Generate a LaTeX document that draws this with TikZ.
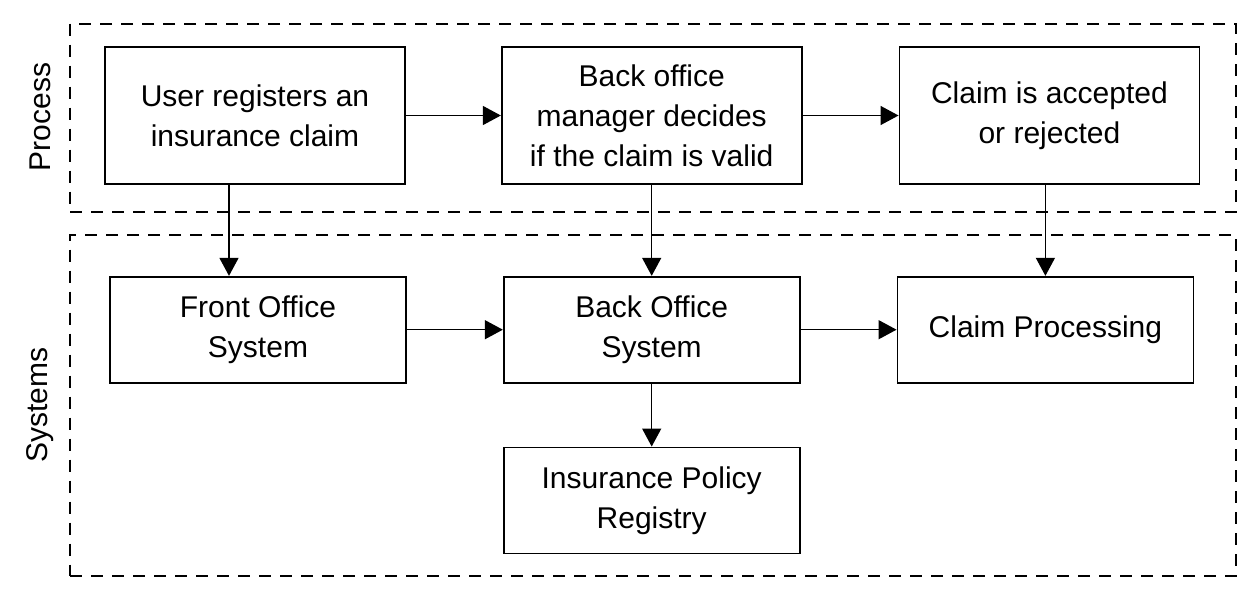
\documentclass[tikz,border=0pt]{standalone}
\usepackage{fontspec}
\setmainfont{Liberation Sans}
\usetikzlibrary{arrows.meta,positioning,calc}

\begin{document}
\begin{tikzpicture}[
  x=0.5pt,y=-0.5pt,
  font=\fontsize{15}{20}\selectfont,
  box/.style={draw,line width=0.85pt,align=center,minimum width=150pt,
              minimum height=68.5pt,inner sep=0pt},
  sysbox/.style={box,minimum width=148pt,minimum height=53pt},
  frame/.style={draw,line width=1pt,dash pattern=on 6pt off 4.5pt,
                minimum width=583pt,inner sep=0pt},
  arrow/.style={-{Triangle[length=9pt,width=9.5pt]},line width=0.7pt}
]
\useasboundingbox (0,0) rectangle (1260,600);
% frames and side labels
\node[frame,minimum height=94pt] (procframe) at (653,117.5) {};
\node[frame,minimum height=170.5pt] (sysframe) at (653,405) {};
\node[rotate=90] (proclab) at (40,117) {Process};
\node[rotate=90] (syslab) at (40,405) {Systems};
% process row
\node[box] (reg) at (255,115.5) {User registers an\\insurance claim};
\node[box,right=47.5pt of reg] (dec) {Back office\\manager decides\\if the claim is valid};
\node[box,right=48pt of dec] (res) {Claim is accepted\\or rejected};
% systems rows
\node[sysbox,below=45.5pt of dec] (bos) {Back Office\\System};
\node[sysbox,left=48pt of bos] (fos) {Front Office\\System};
\node[sysbox,right=48pt of bos] (cp) {Claim Processing};
\node[sysbox,below=31.5pt of bos] (ipr) {Insurance Policy\\Registry};
\coordinate (regout) at ($(reg.south)+(-13pt,0)$);
\draw[arrow] (reg)--(dec); \draw[arrow] (dec)--(res);
\draw[arrow] (fos)--(bos); \draw[arrow] (bos)--(cp); \draw[arrow] (bos)--(ipr);
\draw[arrow] (regout)--(regout |- fos.north);
\draw[arrow] (dec)--(bos);
\draw[arrow] (res.south -| cp.north)--(cp.north);
\end{tikzpicture}
\end{document}
